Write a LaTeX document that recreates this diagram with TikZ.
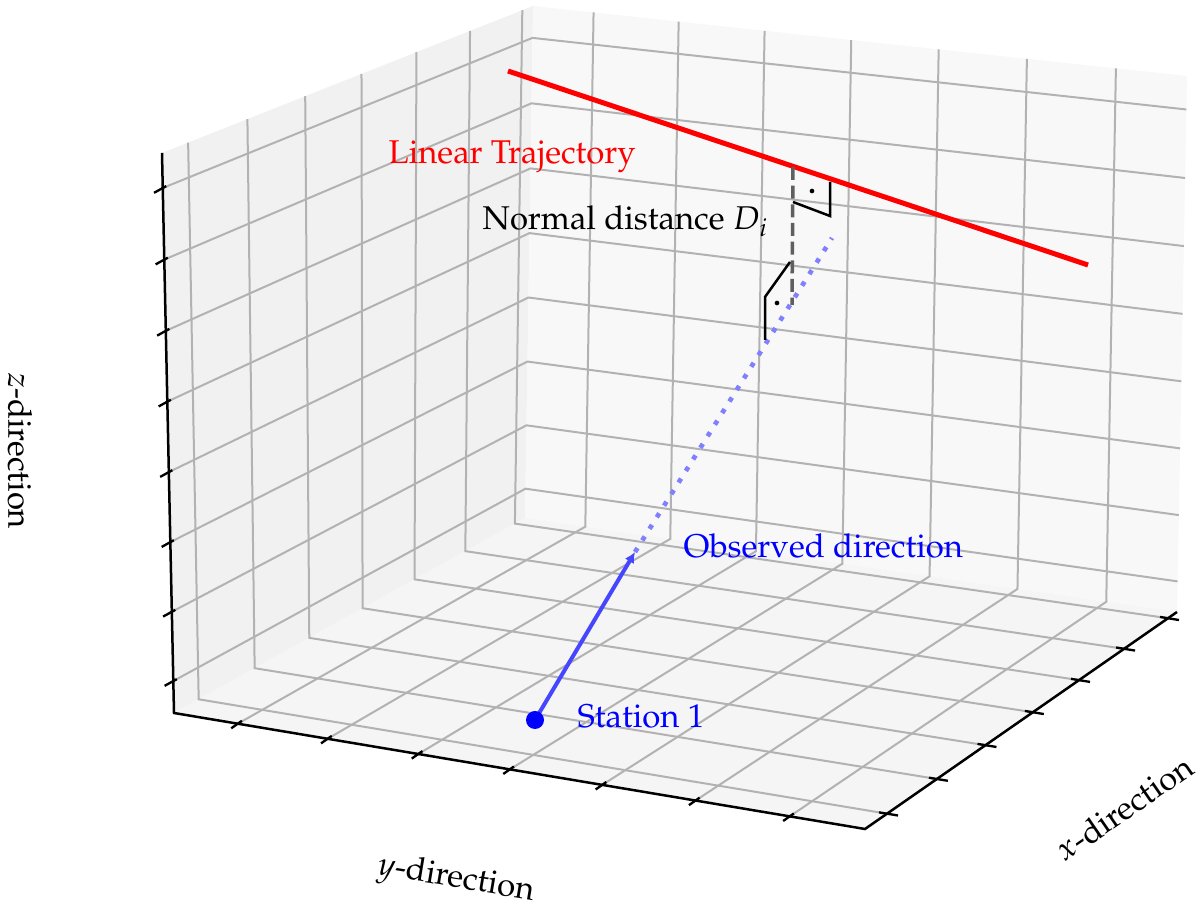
\documentclass[tikz,border=0pt]{standalone}
\usepackage[T1]{fontenc}
\usepackage{mathpazo}
\usetikzlibrary{calc,arrows.meta}

\definecolor{gridgray}{RGB}{178,178,178}
\definecolor{paneL}{RGB}{241,241,241}
\definecolor{paneB}{RGB}{248,248,248}
\definecolor{paneF}{RGB}{245,245,245}
\definecolor{arrowblue}{RGB}{70,70,255}
\definecolor{dotblue}{RGB}{128,128,255}
\definecolor{dashgray}{RGB}{95,95,95}
\definecolor{purered}{RGB}{255,0,0}
\definecolor{pureblue}{RGB}{0,0,255}

% point at 3D fraction #6 on edge #2->#3 with depths #4,#5 (perspective)
\newcommand\edgept[6]{%
  \pgfmathsetmacro\myS{(#6)*(#5)/((1-(#6))*(#4)+(#6)*(#5))}%
  \coordinate (#1) at ($(#2)!\myS!(#3)$);%
}

\tikzset{
  gridln/.style={gridgray, line width=0.6pt},
  axisln/.style={black, line width=0.75pt},
  tickln/.style={black, line width=0.7pt},
  redln/.style={purered, line width=1.5pt},
  dashln/.style={dashgray, line width=1.05pt, dash pattern=on 3.9pt off 1.7pt},
  markln/.style={black, line width=0.75pt},
  dotln/.style={dotblue, line width=1.4pt, dash pattern=on 1.4pt off 2.7pt},
  arrowln/.style={arrowblue, line width=1.2pt, -{Latex[length=3.2pt,width=3.2pt]}},
  lbl/.style={inner sep=0pt, anchor=base west},
}

\begin{document}
\begin{tikzpicture}[x=0.3pt,y=-0.3pt,font=\fontsize{9.87}{12}\selectfont]
\useasboundingbox (0,0) rectangle (1200,909);
\fill[white] (0,0) rectangle (1200,909);

% box corners (pixel coordinates)
\coordinate (L) at (174,713);
\coordinate (F) at (865,829);
\coordinate (R) at (1177,612);
\coordinate (B) at (525,518);
\coordinate (TL) at (162,153);
\coordinate (TB) at (533,6);
\coordinate (TR) at (1187,76);

% panes
\fill[paneL] (L) -- (B) -- (TB) -- (TL) -- cycle;
\fill[paneB] (B) -- (R) -- (TR) -- (TB) -- cycle;
\fill[paneF] (L) -- (F) -- (R) -- (B) -- cycle;

% x grid lines (floor + left pane)
\foreach \n in {0,...,6}{
  \pgfmathsetmacro\tv{0.0652+0.1506*\n}
  \edgept{ga}{F}{R}{0.965}{1.05}{\tv}
  \edgept{gb}{L}{B}{1.0}{1.085}{\tv}
  \edgept{gc}{TL}{TB}{0.978}{1.063}{\tv}
  \draw[gridln] (ga) -- (gb) -- (gc);
}
% y grid lines (floor + back pane)
\foreach \n in {0,...,6}{
  \pgfmathsetmacro\tu{0.0954+0.1332*\n}
  \edgept{ga}{L}{F}{1.0}{0.965}{\tu}
  \edgept{gb}{B}{R}{1.085}{1.05}{\tu}
  \edgept{gc}{TB}{TR}{1.063}{1.028}{\tu}
  \draw[gridln] (ga) -- (gb) -- (gc);
}
% z grid lines (left pane + back pane)
\foreach \n in {0,...,7}{
  \pgfmathsetmacro\tw{0.0583+0.1258*\n}
  \edgept{ga}{L}{TL}{1.0}{0.978}{\tw}
  \edgept{gb}{B}{TB}{1.085}{1.063}{\tw}
  \edgept{gc}{R}{TR}{1.05}{1.028}{\tw}
  \draw[gridln] (ga) -- (gb) -- (gc);
}

% axis lines
\draw[axisln] (TL) -- (L) -- (F) -- (R);

% ticks
\foreach \n in {0,...,7}{
  \pgfmathsetmacro\tw{0.0583+0.1258*\n}
  \edgept{ta}{L}{TL}{1.0}{0.978}{\tw}
  \draw[tickln] ($(ta)+(3.5,-1.9)$) -- ($(ta)+(-8.7,4.8)$);
}
\foreach \n in {0,...,6}{
  \pgfmathsetmacro\tu{0.0954+0.1332*\n}
  \edgept{ta}{L}{F}{1.0}{0.965}{\tu}
  \draw[tickln] ($(ta)+(4.1,-2.9)$) -- ($(ta)+(-6.6,4.6)$);
}
\foreach \n in {0,...,6}{
  \pgfmathsetmacro\tv{0.0652+0.1506*\n}
  \edgept{ta}{F}{R}{0.965}{1.05}{\tv}
  \draw[tickln] ($(ta)+(-8,-1.3)$) -- ($(ta)+(11,1.8)$);
}

% trajectory
\coordinate (RL1) at (508,71);
\coordinate (RL2) at (1088,265);
\draw[redln] (RL1) -- (RL2);

% observed direction
\coordinate (S) at (535,720);
\coordinate (Tip) at (635,552);
\coordinate (DE) at (832,238);
\draw[dotln] (Tip) -- (DE);
\draw[arrowln] (S) -- (Tip);
\fill[pureblue] (S) circle[radius=2.7pt];

% normal distance
\coordinate (N1) at (793,167);
\coordinate (N2) at (792,305);
\draw[dashln] (N1) -- (N2);
\coordinate (MA1) at (793,202);
\coordinate (MA2) at (830,216);
\coordinate (MA3) at (830,182);
\draw[markln] (MA1) -- (MA2) -- (MA3);
\coordinate (MAd) at (812,191);
\fill[black] (MAd) circle[radius=0.7pt];
\coordinate (MB1) at (790,262);
\coordinate (MB2) at (765,297);
\coordinate (MB3) at (765,340);
\draw[markln] (MB1) -- (MB2) -- (MB3);
\coordinate (MBd) at (777,303);
\fill[black] (MBd) circle[radius=0.7pt];

% labels
\node[lbl, text=purered] (tlin) at (388,164) {Linear Trajectory};
\node[lbl] (tnorm) at (482,230) {Normal distance $D_i$};
\node[lbl, text=pureblue] (tobs) at (683,558) {Observed direction};
\node[lbl, text=pureblue] (tsta) at (577,728) {Station 1};
\node[rotate=-9.5] (ylab) at (456,880) {$y$-direction};
\node[rotate=34.5] (xlab) at (1124,808) {$x$-direction};
\node[rotate=-90] (zlab) at (20,451) {$z$-direction};
\end{tikzpicture}
\end{document}
